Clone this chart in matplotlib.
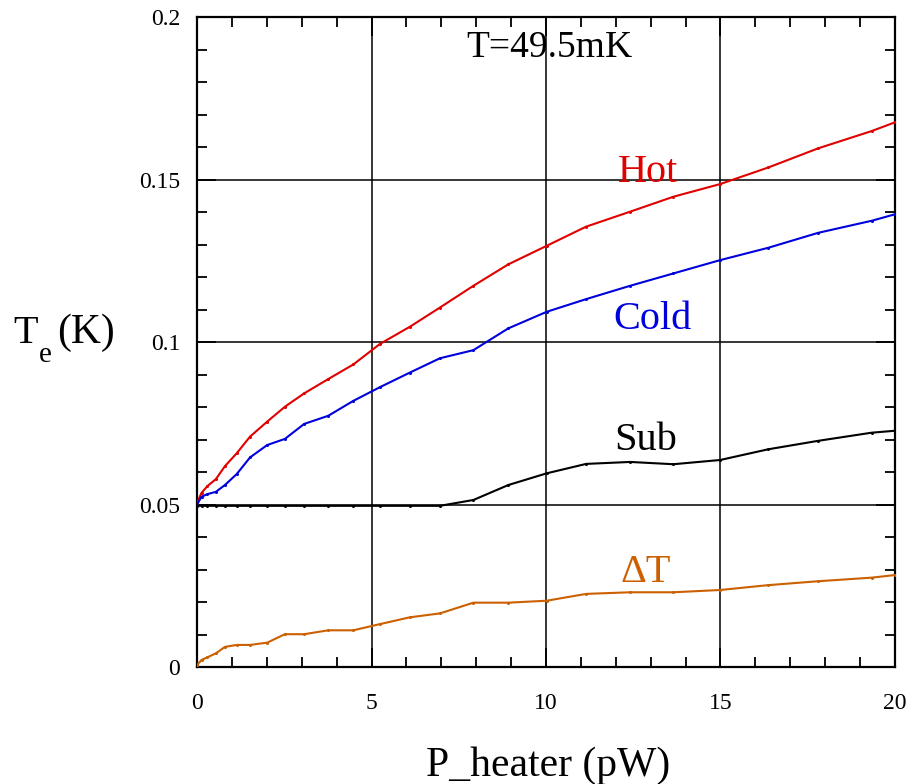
import matplotlib
matplotlib.use("Agg")
import matplotlib.pyplot as plt
from matplotlib.ticker import MultipleLocator

plt.rcParams["font.family"] = ["Liberation Serif", "DejaVu Serif"]

# heater power (pW), shared by all curves
p_heater = [0, 0.13, 0.30, 0.54, 0.80, 1.14, 1.52, 2.01, 2.52, 3.07, 3.76, 4.48,
            5.24, 6.10, 6.96, 7.92, 8.92, 10.02, 11.15, 12.41, 13.65, 14.99,
            16.37, 17.80, 19.33, 20.0]

t_hot = [0.0505, 0.0536, 0.0557, 0.0578, 0.0618, 0.0658, 0.0709, 0.0755, 0.0801,
         0.0842, 0.0886, 0.0931, 0.0994, 0.1047, 0.1106, 0.1173, 0.1239, 0.1296,
         0.1355, 0.1401, 0.1447, 0.1486, 0.1537, 0.1596, 0.1649, 0.1676]

t_cold = [0.0500, 0.0524, 0.0532, 0.0539, 0.0560, 0.0594, 0.0645, 0.0683, 0.0702,
          0.0748, 0.0773, 0.0819, 0.0861, 0.0906, 0.0950, 0.0975, 0.1042, 0.1093,
          0.1132, 0.1173, 0.1211, 0.1252, 0.1290, 0.1336, 0.1373, 0.1393]

t_sub = [0.0496, 0.0496, 0.0496, 0.0496, 0.0496, 0.0496, 0.0496, 0.0496, 0.0496,
         0.0496, 0.0496, 0.0496, 0.0496, 0.0496, 0.0496, 0.0514, 0.0560, 0.0596,
         0.0625, 0.0631, 0.0624, 0.0637, 0.0670, 0.0696, 0.0721, 0.0727]

delta_t = [0.0006, 0.0022, 0.0030, 0.0042, 0.0062, 0.0068, 0.0068, 0.0075, 0.0101,
           0.0101, 0.0113, 0.0113, 0.0132, 0.0153, 0.0165, 0.0198, 0.0198, 0.0204,
           0.0225, 0.0230, 0.0230, 0.0237, 0.0252, 0.0264, 0.0275, 0.0283]

y_ticks = [0, 0.05, 0.1, 0.15, 0.2]
y_ticklabels = ["0", "0.05", "0.1", "0.15", "0.2"]
x_ticks = [0, 5, 10, 15, 20]

RED = "#e00000"
BLUE = "#0000dd"
ORANGE = "#cc6000"

fig = plt.figure(figsize=(9.1, 7.84), dpi=100)
ax = fig.add_axes([0.2165, 0.1492, 0.767, 0.8291])

for ys, c in [(t_hot, RED), (t_cold, BLUE), (t_sub, "black"), (delta_t, ORANGE)]:
    ax.plot(p_heater, ys, color=c, lw=1.5, marker="o", ms=1.2, zorder=3)

ax.set_xlim(0, 20)
ax.set_ylim(0, 0.2)
ax.set_xticks(x_ticks)
ax.set_xticklabels([str(v) for v in x_ticks])
ax.set_yticks(y_ticks)
ax.set_yticklabels(y_ticklabels)
ax.xaxis.set_minor_locator(MultipleLocator(1))
ax.yaxis.set_minor_locator(MultipleLocator(0.01))
ax.grid(which="major", color="black", lw=1.1)
ax.tick_params(which="both", direction="in", top=True, right=True, width=1.3, labelsize=17)
ax.tick_params(which="major", length=14)
ax.tick_params(which="minor", length=7)
ax.tick_params(axis="x", pad=19)
ax.tick_params(axis="y", pad=12)
for s in ax.spines.values():
    s.set_linewidth(1.6)

ax.text(10.1, 0.1877, "T=49.5mK", fontsize=27, ha="center", va="baseline")
ax.text(12.92, 0.1493, "Hot", fontsize=29, color=RED, ha="center", va="baseline")
ax.text(13.04, 0.1040, "Cold", fontsize=29, color=BLUE, ha="center", va="baseline")
ax.text(12.87, 0.0668, "Sub", fontsize=29, color="black", ha="center", va="baseline")
ax.text(12.87, 0.0262, "\u0394T", fontsize=29, color=ORANGE, ha="center", va="baseline")

fig.text(548 / 910, 1 - 776 / 784, "P_heater (pW)", fontsize=30, ha="center", va="baseline")
fig.text(13 / 910, 1 - 343 / 784, "T", fontsize=29, ha="left", va="baseline")
fig.text(39 / 910, 1 - 362 / 784, "e", fontsize=21, ha="left", va="baseline")
fig.text(57 / 910, 1 - 343 / 784, "(K)", fontsize=30, ha="left", va="baseline")

fig.savefig("out.png", dpi=100)
